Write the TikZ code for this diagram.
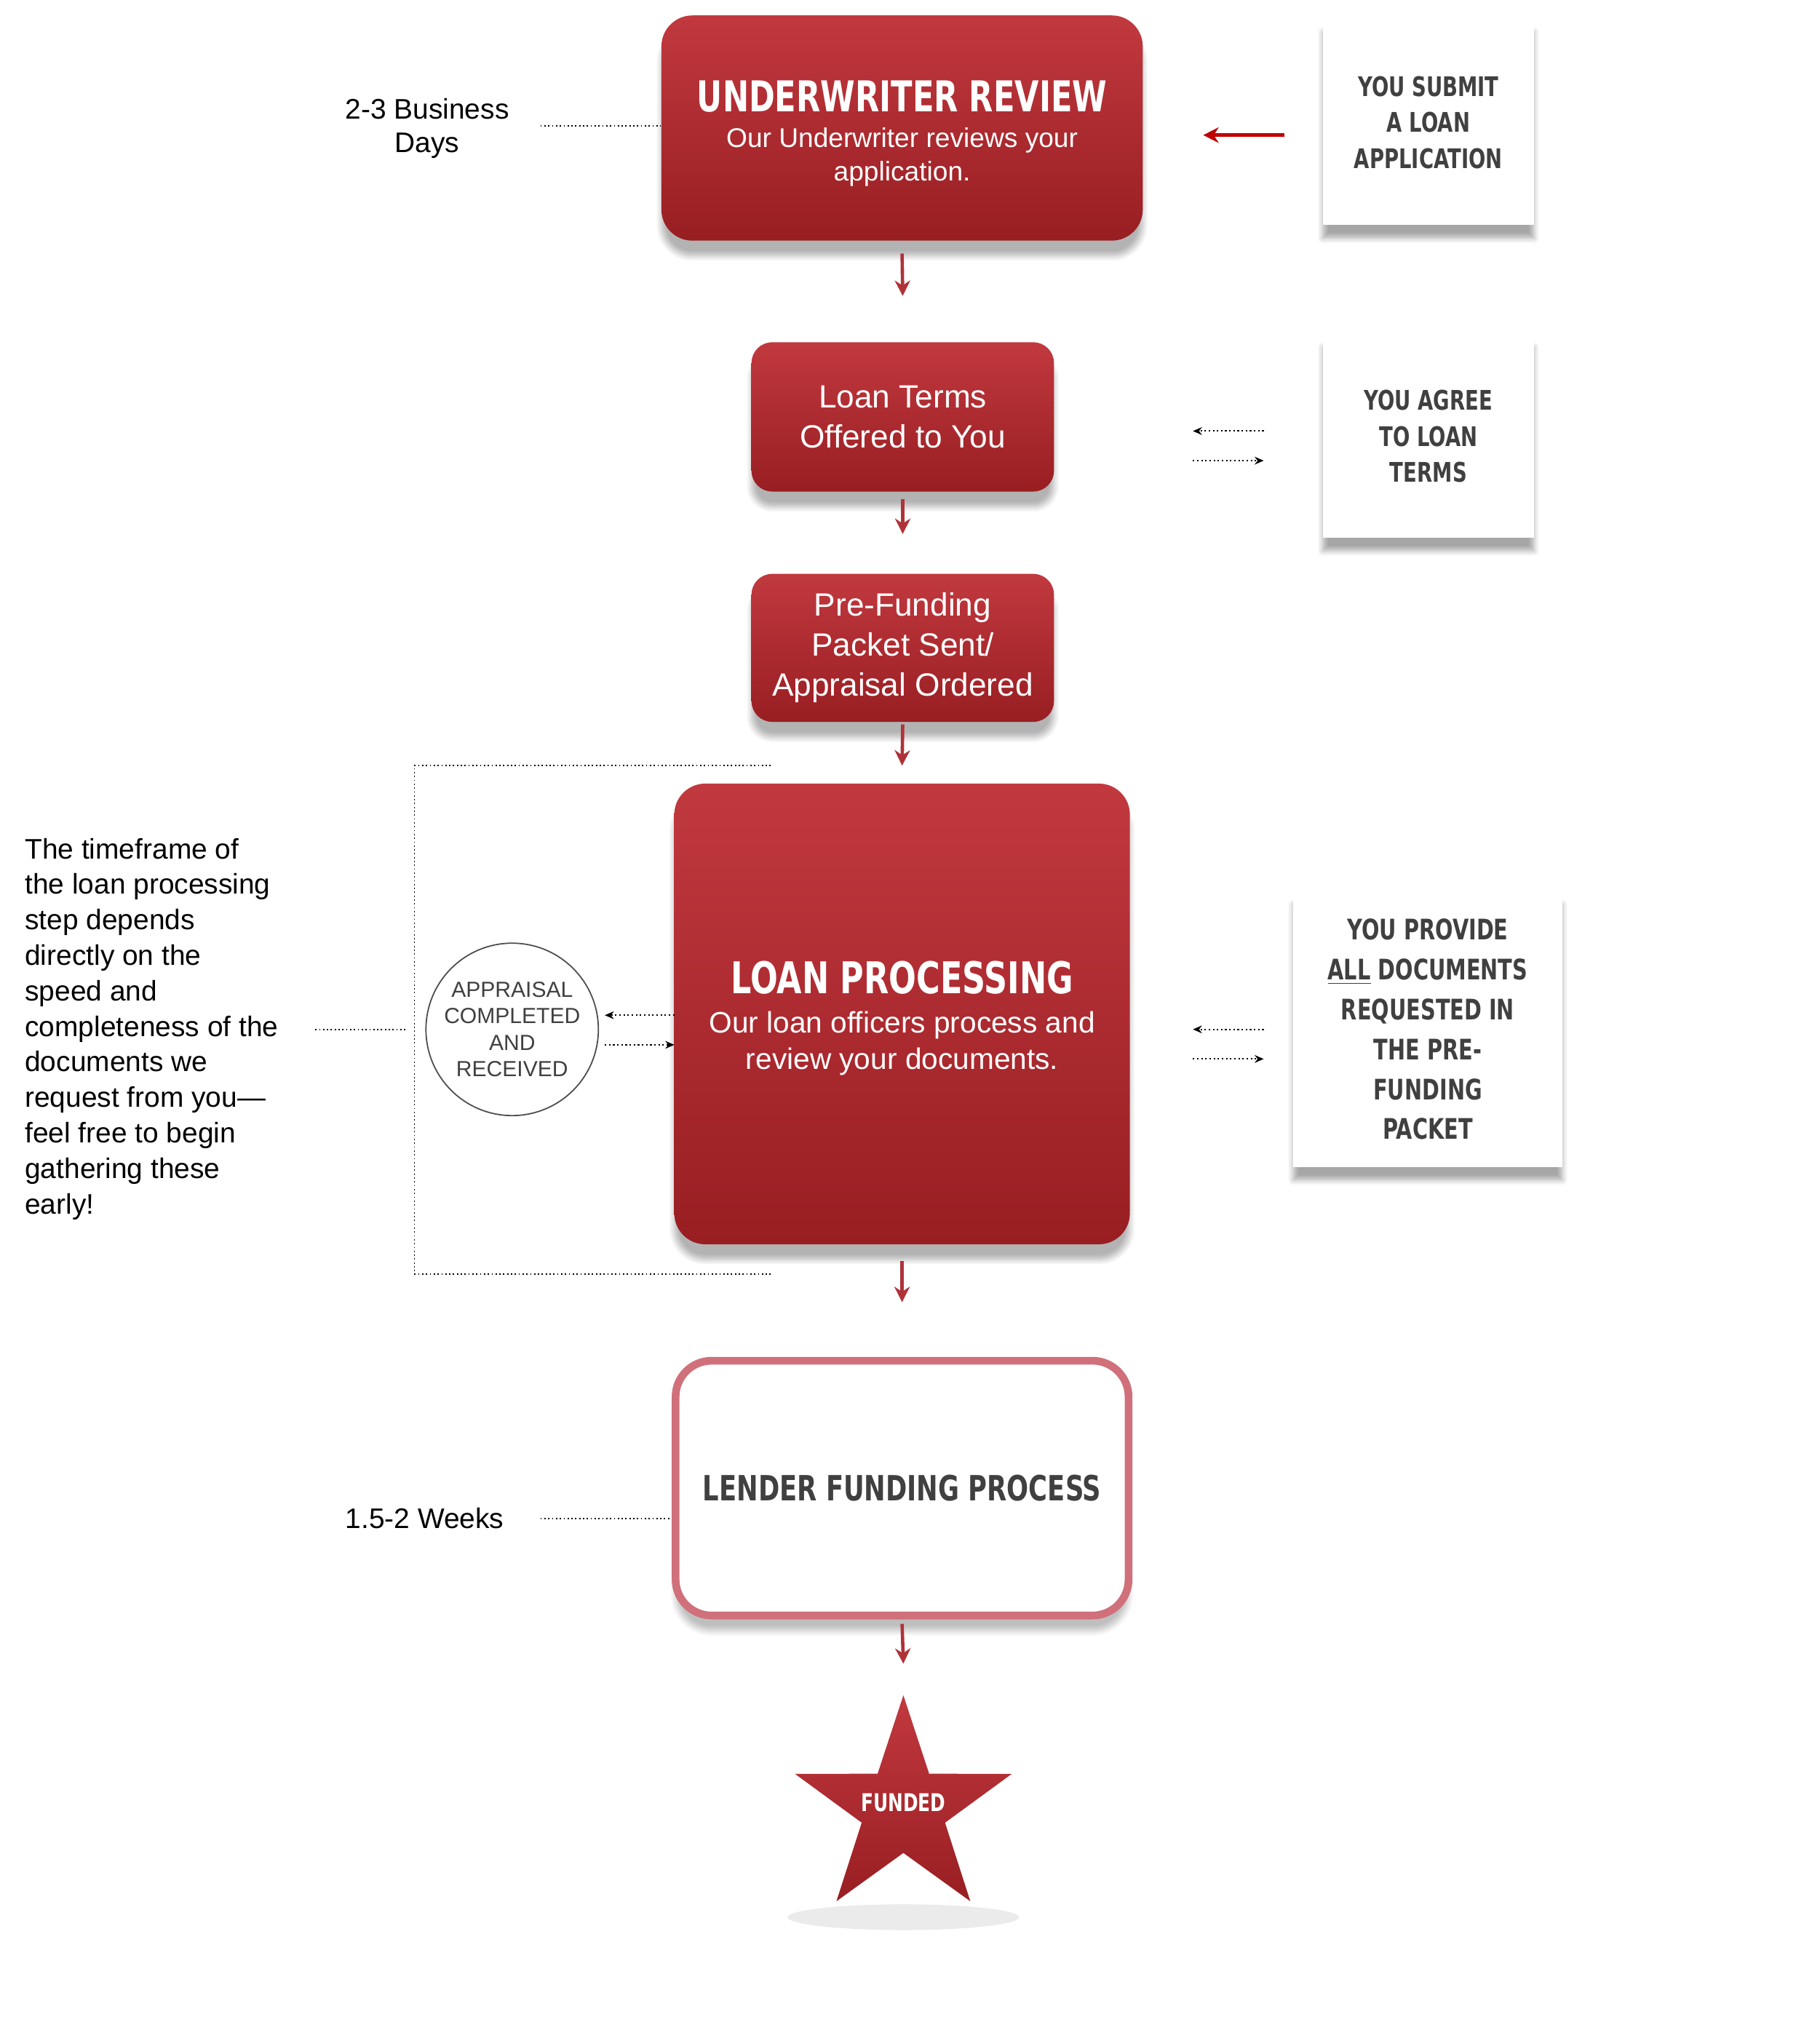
\documentclass[tikz,border=0pt]{standalone}
\usepackage{fontspec}
\setmainfont{Liberation Sans}
\newfontfamily\cond[FakeStretch=0.74]{DejaVu Sans Bold}
\usetikzlibrary{shapes.geometric,shadows.blur,arrows.meta}
\definecolor{rtop}{HTML}{C1393F}
\definecolor{rbot}{HTML}{981E22}
\definecolor{cardtxt}{HTML}{404040}
\definecolor{pinkb}{HTML}{D0707A}
\tikzset{
 redbox/.style={draw=none,rounded corners=12pt,top color=rtop,bottom color=rbot,text=white,align=center,
   blur shadow={shadow xshift=0pt,shadow yshift=-6pt,shadow blur steps=8,shadow opacity=30}},
 card/.style={draw=none,fill=white,text=cardtxt,align=center,font=\cond\fontsize{10.5}{14}\selectfont,
   blur shadow={shadow xshift=0pt,shadow yshift=-5pt,shadow blur steps=6,shadow opacity=35}},
 flow/.style={draw=rtop!90!black,line width=1.3pt,-{Stealth[length=6pt,width=6pt]}},
 dots/.style={densely dotted,line width=0.5pt},
 dotarr/.style={densely dotted,line width=0.6pt,-{Stealth[length=3.5pt,width=3pt]}},
 side/.style={align=center,font=\fontsize{11}{13}\selectfont}
}
\begin{document}
\begin{tikzpicture}[x=0.5pt,y=-0.5pt]
\useasboundingbox (0,0) rectangle (1414,1580);
% Underwriter
\node[redbox,minimum width=187pt,minimum height=87.5pt] (uw) at (701,99.5) {};
\node[text=white,font=\cond\fontsize{16.5}{18}\selectfont] (uwt) at (701,75) {UNDERWRITER REVIEW};
\node[text=white,align=center,font=\fontsize{10.5}{13}\selectfont] (uws) at (701,122) {Our Underwriter reviews your\\application.};
\node[side] (t1) at (332,100) {2-3 Business\\Days};
\draw[dots] (420,98) -- (uw.west|-0,98);
\node[card,minimum width=82pt,minimum height=80pt] (c1) at (1110,95) {YOU SUBMIT\\A LOAN\\APPLICATION};
\coordinate (a1s) at (998,105); \coordinate (a1e) at (935,105);
\draw[flow,draw=red!75!black,line width=1.5pt] (a1s) -- (a1e);
% Loan Terms
\node[redbox,rounded corners=8pt,minimum width=117.5pt,minimum height=58pt,font=\fontsize{12.5}{15.5}\selectfont] (lt) at (701.5,324) {Loan Terms\\Offered to You};
\draw[flow] (uw.south|-0,197) -- (lt.north|-0,230);
\node[card,minimum width=82pt,minimum height=79pt] (c2) at (1110,339) {YOU AGREE\\TO LOAN\\TERMS};
\coordinate (b1) at (982,335); \coordinate (b2) at (927,335);
\coordinate (b3) at (927,358); \coordinate (b4) at (982,358);
\draw[dotarr] (b1) -- (b2); \draw[dotarr] (b3) -- (b4);
% Pre-funding
\node[redbox,rounded corners=8pt,minimum width=117.5pt,minimum height=57.5pt,font=\fontsize{12.5}{15.5}\selectfont] (pf) at (701.5,503.5) {Pre-Funding\\Packet Sent/\\Appraisal Ordered};
\draw[flow] (lt.south|-0,388) -- (pf.north|-0,415);
% Loan processing
\node[redbox,minimum width=177pt,minimum height=179pt] (lp) at (701,788) {};
\node[text=white,font=\cond\fontsize{17}{19}\selectfont] (lpt) at (701,760) {LOAN PROCESSING};
\node[text=white,align=center,font=\fontsize{11.5}{14}\selectfont] (lps) at (701,811) {Our loan officers process and\\review your documents.};
\draw[flow] (pf.south|-0,563) -- (lp.north|-0,595);
\coordinate (k1) at (599,595); \coordinate (k2) at (322,595);
\coordinate (k3) at (322,990); \coordinate (k4) at (599,990);
\draw[dots] (k1) -- (k2) -- (k3) -- (k4);
\node[circle,draw=black!70,line width=0.5pt,minimum size=67pt,inner sep=0pt,align=center,text=black!75,font=\fontsize{8.5}{10.3}\selectfont] (ap) at (398,800) {APPRAISAL\\COMPLETED\\AND\\RECEIVED};
\coordinate (p1) at (524,789); \coordinate (p2) at (470,789);
\coordinate (p3) at (470,812); \coordinate (p4) at (524,812);
\draw[dotarr] (p1) -- (p2); \draw[dotarr] (p3) -- (p4);
\node[align=left,anchor=north west,font=\fontsize{11}{13.8}\selectfont,inner sep=0pt] (par) at (19,651) {The timeframe of\\the loan processing\\step depends\\directly on the\\speed and\\completeness of the\\documents we\\request from you—\\feel free to begin\\gathering these\\early!};
\coordinate (q1) at (245,800); \coordinate (q2) at (316,800);
\draw[dots] (q1) -- (q2);
\coordinate (r1) at (982,800); \coordinate (r2) at (927,800);
\coordinate (r3) at (927,823); \coordinate (r4) at (982,823);
\draw[dotarr] (r1) -- (r2); \draw[dotarr] (r3) -- (r4);
\node[card,minimum width=104.5pt,minimum height=107pt,font=\cond\fontsize{11}{15.5}\selectfont] (c3) at (1109.5,800) {YOU PROVIDE\\\underline{ALL} DOCUMENTS\\REQUESTED IN\\THE PRE-\\FUNDING\\PACKET};
% Lender
\node[draw=pinkb,line width=3pt,rounded corners=14pt,fill=white,minimum width=176pt,minimum height=99pt,text=cardtxt,font=\cond\fontsize{13.5}{16}\selectfont,
 blur shadow={shadow xshift=0pt,shadow yshift=-6pt,shadow blur steps=8,shadow opacity=25}] (lf) at (701,1156.5) {LENDER FUNDING PROCESS};
\draw[flow] (lp.south|-0,980) -- (lf.north|-0,1012);
\node[side] (t2) at (330,1180) {1.5-2 Weeks};
\draw[dots] (420,1180) -- (lf.west|-0,1180);
% Star
\fill[black,opacity=0.08] (702,1490) ellipse (45pt and 5pt);
\node[star,star points=5,star point ratio=2.6,minimum size=88.5pt,inner sep=0pt,top color=rtop,bottom color=rbot,text=white] (st) at (702,1406) {};
\node[text=white,font=\cond\fontsize{9.5}{11}\selectfont] (stt) at (702,1401) {FUNDED};
\draw[flow] (lf.south|-0,1262) -- (st.north|-0,1293);
\end{tikzpicture}
\end{document}
